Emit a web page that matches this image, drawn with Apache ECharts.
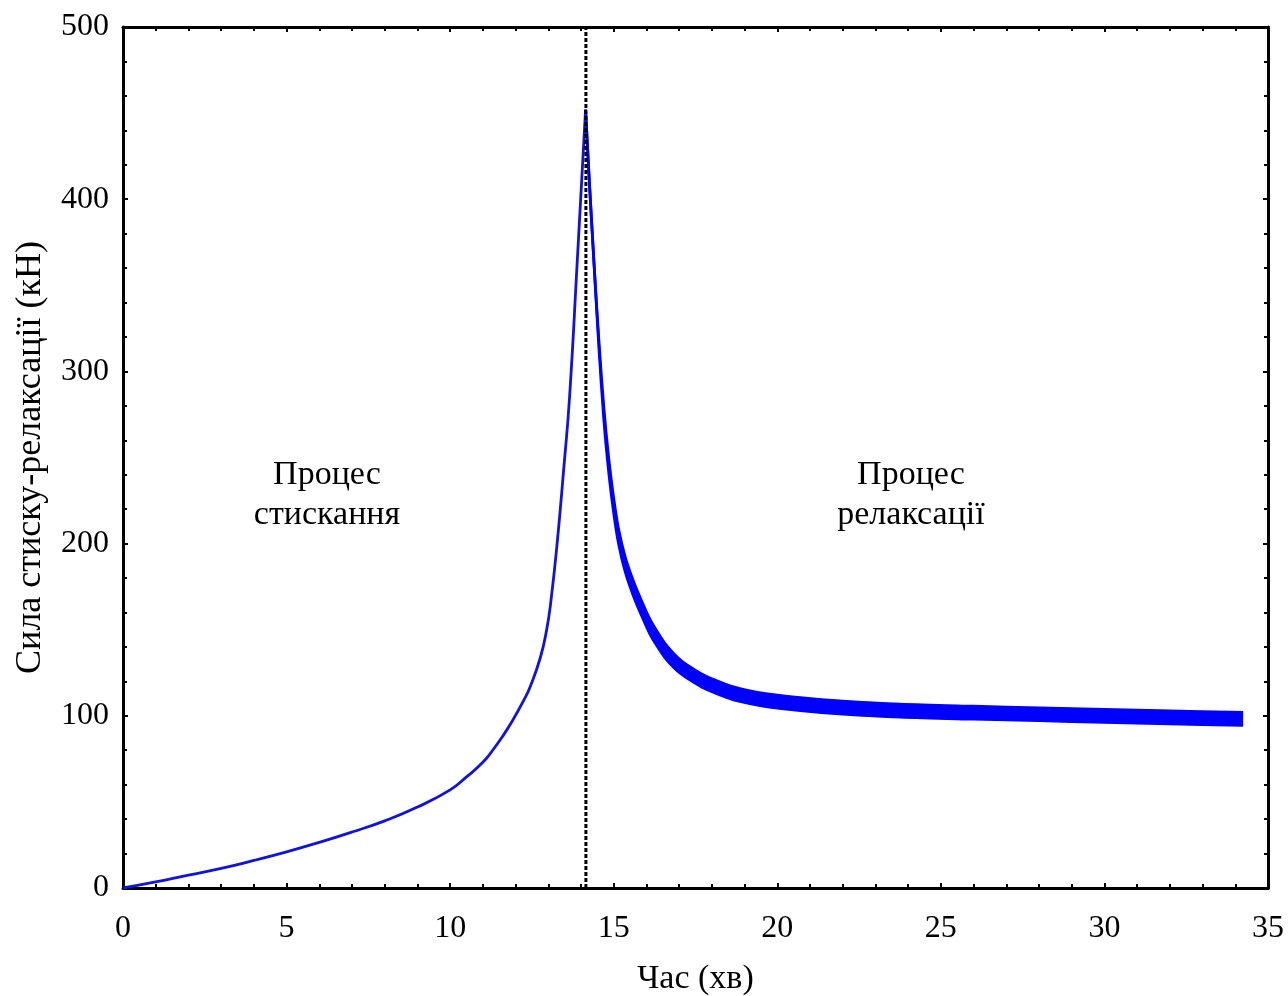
<!DOCTYPE html>
<html>
<head>
<meta charset="utf-8">
<script src="https://cdn.jsdelivr.net/npm/echarts@6/dist/echarts.min.js"></script>
<style>
html,body{margin:0;padding:0;background:#fff;}
#chart{width:1288px;height:996px;}
</style>
</head>
<body>
<div id="chart"></div>
<script>
// ---- Data ----
const compTime  = [0, 1, 2, 3, 4, 5, 6, 7, 8, 9, 10, 10.5, 11, 11.3, 11.6, 11.9, 12.25, 12.45, 12.76, 12.95, 13.07, 13.27, 13.47, 13.65, 13.88, 14.14];
const compForce = [0, 3.5, 7.5, 11.4, 16, 21, 26.5, 32.5, 39, 47, 57, 64.5, 73, 80, 88, 97, 109, 117, 134, 150, 165, 200, 243, 285, 362, 452];

const relaxTime   = [14.14, 14.25, 14.4, 14.55, 14.7, 14.85, 15.0, 15.15, 15.35, 15.6, 15.85, 16.1, 16.35, 16.6, 16.85, 17.1, 17.4, 17.7, 18.1, 18.6, 19.2, 19.7, 20.7, 22, 23.75, 26, 28, 30, 32, 34.24];
const relaxForce  = [452, 412, 362, 315, 275, 245, 222, 204, 188, 174, 162.5, 152, 144, 137, 131.8, 127.6, 123.8, 120.4, 117, 113.4, 110.6, 109, 106.8, 104.8, 103, 101.8, 100.9, 100, 99.1, 98.2];
const relaxSpread = [0, 0, 0, 4, 7, 8, 8.5, 8.5, 8.5, 8.5, 8.5, 8.5, 8.5, 8.3, 8, 7.8, 7.6, 7.5, 7.5, 7.5, 7.5, 7.5, 7.5, 7.5, 7.5, 7.5, 7.5, 7.5, 7.5, 7.5];

const peakTime = 14.15;
const xTicks = [0, 5, 10, 15, 20, 25, 30, 35];
const yTicks = [0, 100, 200, 300, 400, 500];

const xTitle = 'Час (хв)';
const yTitle = 'Сила стиску-релаксації (кН)';
const leftNote = ['Процес', 'стискання'];
const rightNote = ['Процес', 'релаксації'];
const leftNotePos = [327, 455];
const rightNotePos = [911, 455];

// ---- Build ----
const FONT = "'Liberation Serif', 'Times New Roman', serif";
const BLUE = '#0000ff';
const compData = compTime.map((t, i) => [t, compForce[i]]);

const axisCommon = {
  min: 0,
  axisLine: { show: true, onZero: false, lineStyle: { color: '#000', width: 3 } },
  axisTick: { show: true, inside: true, length: 5, lineStyle: { color: '#000', width: 2 } },
  minorTick: { show: true, splitNumber: 5, length: 4, lineStyle: { color: '#000', width: 2 } },
  splitLine: { show: false },
  minorSplitLine: { show: false }
};

const chart = echarts.init(document.getElementById('chart'), null, { renderer: 'canvas' });
chart.setOption({
  backgroundColor: '#fff',
  animation: false,
  grid: { left: 123, right: 20, top: 27, bottom: 108, containLabel: false, outerBoundsMode: 'none' },
  xAxis: [
    Object.assign({}, axisCommon, {
      type: 'value', position: 'bottom', max: xTicks[xTicks.length - 1], interval: 5,
      name: xTitle, nameLocation: 'middle', nameGap: 74,
      nameTextStyle: { fontFamily: FONT, fontSize: 34, color: '#000' },
      axisLabel: { margin: 25, fontFamily: FONT, fontSize: 32, color: '#000' }
    }),
    Object.assign({}, axisCommon, {
      type: 'value', position: 'top', max: xTicks[xTicks.length - 1], interval: 5,
      axisLabel: { show: false }
    })
  ],
  yAxis: [
    Object.assign({}, axisCommon, {
      type: 'value', position: 'left', max: yTicks[yTicks.length - 1], interval: 100,
      name: yTitle, nameLocation: 'middle', nameGap: 74, nameRotate: 90,
      nameTextStyle: { fontFamily: FONT, fontSize: 36, color: '#000' },
      axisLabel: { margin: 14, fontFamily: FONT, fontSize: 32, color: '#000' }
    }),
    Object.assign({}, axisCommon, {
      type: 'value', position: 'right', max: yTicks[yTicks.length - 1], interval: 100,
      axisLabel: { show: false }
    })
  ],
  series: [
    {
      type: 'line', data: compData, symbol: 'none', smooth: 0.5,
      lineStyle: { color: '#1212dd', width: 2.8 }, z: 3
    },
    {
      type: 'custom', data: [0], z: 3,
      renderItem: function (params, api) {
        const upper = relaxTime.map((t, i) => api.coord([t, relaxForce[i] + relaxSpread[i] / 2]));
        const lower = relaxTime.map((t, i) => api.coord([t, relaxForce[i] - relaxSpread[i] / 2]));
        const edge = { stroke: BLUE, lineWidth: 2.8, fill: null, lineJoin: 'round', lineCap: 'butt' };
        return {
          type: 'group',
          children: [
            { type: 'polygon', shape: { points: upper.concat(lower.slice().reverse()) }, style: { fill: BLUE } },
            { type: 'polyline', shape: { points: upper, smooth: 0.3 }, style: edge },
            { type: 'polyline', shape: { points: lower, smooth: 0.3 }, style: edge }
          ]
        };
      }
    },
    {
      type: 'line', data: [[peakTime, 0], [peakTime, 500]], symbol: 'none',
      lineStyle: { color: '#000', width: 3, type: [4, 2] }, z: 5
    }
  ],
  graphic: [
    { type: 'text', x: leftNotePos[0], y: leftNotePos[1], style: { text: leftNote.join('\n'), fontFamily: FONT, fontSize: 34, fill: '#000', align: 'center', lineHeight: 40 } },
    { type: 'text', x: rightNotePos[0], y: rightNotePos[1], style: { text: rightNote.join('\n'), fontFamily: FONT, fontSize: 34, fill: '#000', align: 'center', lineHeight: 40 } }
  ]
});
</script>
</body>
</html>
